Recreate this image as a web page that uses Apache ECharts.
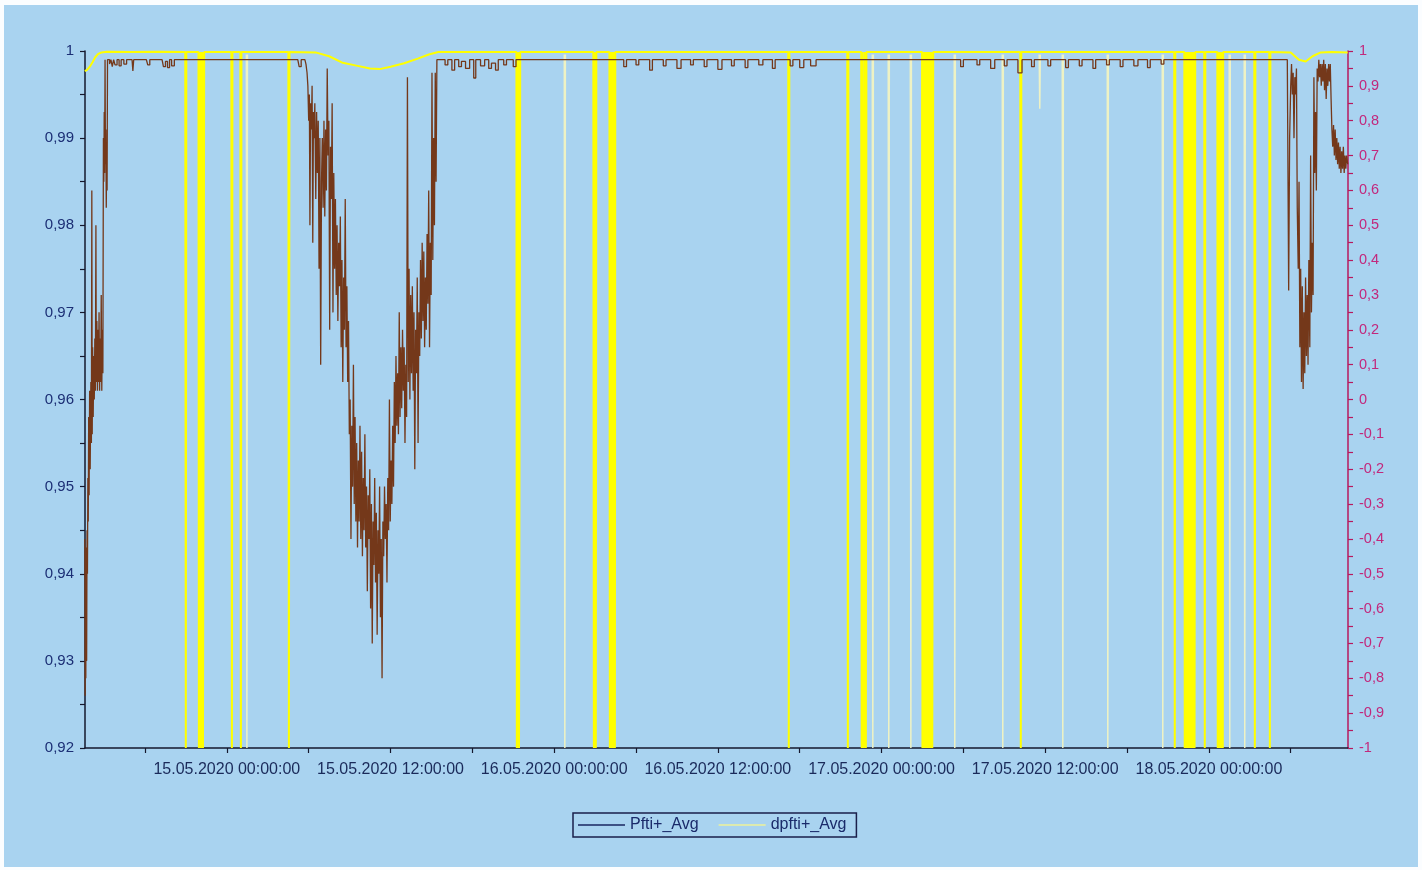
<!DOCTYPE html>
<html><head><meta charset="utf-8">
<script src="https://cdn.jsdelivr.net/npm/echarts@6/dist/echarts.min.js"></script>
<style>
html,body{margin:0;padding:0;background:#fbfdff;width:1422px;height:870px;overflow:hidden}
#c{position:absolute;left:4px;top:5px;width:1414px;height:862px;}
</style>
</head><body><div id="c"></div>
<script>
// x values are hours relative to 15.05.2020 00:00:00
const xTickHours = [-6,0,6,12,18,24,30,36,42,48,54,60,66,72,78];
const xLabelHours = [0,12,24,36,48,60,72];
const xLabels = ['15.05.2020 00:00:00','15.05.2020 12:00:00','16.05.2020 00:00:00','16.05.2020 12:00:00','17.05.2020 00:00:00','17.05.2020 12:00:00','18.05.2020 00:00:00'];

// Pfti+_Avg (left axis)
const pftiStart = [[-10.41,0.944],[-10.39,0.926],[-10.37,0.940],[-10.34,0.928],[-10.31,0.943],[-10.28,0.930],[-10.25,0.945],[-10.22,0.940],[-10.19,0.951],[-10.16,0.946],[-10.13,0.958],[-10.10,0.949],[-10.06,0.961],[-10.02,0.952],[-9.97,0.962],[-9.93,0.955],[-9.90,0.984],[-9.87,0.956],[-9.84,0.966],[-9.80,0.958],[-9.76,0.965],[-9.72,0.960],[-9.68,0.967],[-9.64,0.961],[-9.60,0.980],[-9.57,0.962],[-9.53,0.969],[-9.49,0.961],[-9.45,0.968],[-9.41,0.962],[-9.37,0.970],[-9.33,0.961],[-9.29,0.967],[-9.25,0.962],[-9.21,0.972],[-9.17,0.961],[-9.13,0.968],[-9.09,0.963],[-9.05,0.990],[-9.02,0.985],[-8.99,0.993],[-8.96,0.986],[-8.93,0.999],[-8.90,0.987],[-8.87,0.991],[-8.84,0.982],[-8.81,0.989],[-8.78,0.984],[-8.75,0.999],[-8.70,0.999]];
const pftiFlat1 = [[-8.60,0.9985],[-8.50,0.999],[-8.40,0.9982],[-8.30,0.999],[-8.20,0.9984],[-8.05,0.999],[-7.90,0.9983],[-7.75,0.999],[-7.55,0.9985],[-7.35,0.999],[-6.95,0.999],[-6.89,0.9977],[-6.83,0.999],[-5.90,0.999],[-5.80,0.9984],[-5.65,0.999],[-4.75,0.999],[-4.65,0.9982],[-4.50,0.9988],[-4.35,0.9981],[-4.20,0.999],[-4.05,0.9983],[-3.85,0.999],[5.20,0.999],[5.30,0.9982],[5.45,0.999],[5.72,0.999]];
const pftiDip = [[5.80,0.9985],[5.88,0.9975],[5.94,0.996],[6.00,0.992],[6.05,0.995],[6.09,0.980],[6.14,0.994],[6.20,0.991],[6.25,0.996],[6.30,0.978],[6.35,0.993],[6.40,0.990],[6.45,0.994],[6.52,0.983],[6.58,0.993],[6.64,0.986],[6.70,0.992],[6.76,0.975],[6.82,0.990],[6.88,0.964],[6.94,0.985],[7.00,0.990],[7.06,0.982],[7.12,0.992],[7.18,0.981],[7.24,0.991],[7.30,0.984],[7.36,0.998],[7.42,0.988],[7.48,0.992],[7.54,0.968],[7.60,0.989],[7.66,0.983],[7.72,0.994],[7.78,0.970],[7.84,0.986],[7.90,0.975],[7.96,0.983],[8.02,0.972],[8.08,0.980],[8.14,0.969],[8.20,0.978],[8.26,0.973],[8.32,0.981],[8.38,0.966],[8.44,0.976],[8.50,0.962],[8.56,0.974],[8.62,0.968],[8.68,0.983],[8.74,0.966],[8.80,0.973],[8.86,0.962],[8.92,0.969],[8.98,0.956],[9.04,0.960],[9.10,0.944],[9.16,0.957],[9.22,0.950],[9.28,0.964],[9.34,0.948],[9.40,0.958],[9.46,0.946],[9.52,0.955],[9.58,0.943],[9.64,0.953],[9.70,0.946],[9.76,0.957],[9.82,0.944],[9.88,0.954],[9.94,0.942],[10.00,0.951],[10.06,0.945],[10.12,0.956],[10.18,0.943],[10.24,0.950],[10.30,0.938],[10.36,0.949],[10.42,0.944],[10.48,0.952],[10.54,0.936],[10.60,0.948],[10.66,0.932],[10.72,0.946],[10.78,0.941],[10.84,0.951],[10.90,0.939],[10.96,0.947],[11.02,0.933],[11.08,0.945],[11.14,0.940],[11.20,0.950],[11.26,0.935],[11.32,0.944],[11.38,0.928],[11.44,0.946],[11.50,0.942],[11.56,0.950],[11.62,0.944],[11.68,0.948],[11.74,0.939],[11.80,0.951],[11.86,0.945],[11.92,0.960],[11.98,0.946],[12.04,0.953],[12.10,0.948],[12.16,0.957],[12.22,0.950],[12.28,0.962],[12.34,0.955],[12.40,0.965],[12.46,0.957],[12.52,0.963],[12.58,0.956],[12.64,0.970],[12.70,0.958],[12.76,0.966],[12.82,0.959],[12.88,0.968],[12.94,0.961],[13.00,0.966],[13.06,0.955],[13.12,0.964],[13.18,0.958],[13.24,0.997],[13.30,0.962],[13.36,0.975],[13.42,0.960],[13.48,0.972],[13.54,0.963],[13.60,0.973],[13.66,0.961],[13.72,0.970],[13.78,0.952],[13.84,0.968],[13.90,0.963],[13.96,0.974],[14.02,0.955],[14.08,0.970],[14.14,0.965],[14.20,0.976],[14.26,0.967],[14.32,0.978],[14.38,0.969],[14.44,0.977],[14.50,0.966],[14.56,0.974],[14.62,0.968],[14.68,0.979],[14.74,0.971],[14.80,0.984],[14.86,0.966],[14.92,0.978],[14.98,0.972],[15.04,0.9975],[15.10,0.976],[15.16,0.990],[15.22,0.980],[15.28,0.9975],[15.34,0.985],[15.40,0.999]];
const pftiFlat2 = [[15.60,0.999],[16.0,0.9984],[16.2,0.999],[16.5,0.9978],[16.7,0.999],[17.0,0.9982],[17.2,0.9988],[17.5,0.9980],[17.8,0.999],[18.1,0.9969],[18.25,0.999],[18.6,0.9983],[18.9,0.999],[19.2,0.9980],[19.4,0.9986],[19.7,0.9978],[19.9,0.999],[20.3,0.9984],[20.5,0.999],[21.0,0.9982],[21.2,0.999],[28.9,0.999],[29.1,0.9982],[29.3,0.999],[30.0,0.9984],[30.2,0.999],[31.0,0.9978],[31.2,0.999],[32.0,0.9983],[32.2,0.999],[33.0,0.9980],[33.3,0.999],[34.0,0.9984],[34.2,0.999],[35.0,0.9982],[35.2,0.999],[36.0,0.9979],[36.3,0.999],[37.0,0.9983],[37.2,0.999],[38.0,0.9981],[38.2,0.999],[39.0,0.9984],[39.3,0.999],[40.0,0.9980],[40.2,0.999],[41.3,0.9983],[41.5,0.999],[42.0,0.9981],[42.3,0.999],[42.8,0.9983],[43.2,0.999],[53.5,0.999],[53.8,0.9982],[54.0,0.999],[55.0,0.9984],[55.2,0.999],[56.0,0.9980],[56.3,0.999],[57.0,0.9983],[57.2,0.999],[58.0,0.9975],[58.3,0.999],[59.0,0.9982],[59.2,0.999],[60.2,0.9983],[60.4,0.999],[61.5,0.9981],[61.7,0.999],[62.5,0.9983],[62.7,0.999],[63.5,0.9980],[63.7,0.999],[64.5,0.9984],[64.7,0.999],[65.5,0.9982],[65.7,0.999],[66.5,0.9983],[66.8,0.999],[67.5,0.9981],[67.7,0.999],[68.5,0.9985],[68.7,0.999],[77.75,0.999]];
const pftiEnd = [[77.85,0.9725],[77.92,0.990],[78.00,0.996],[78.06,0.9985],[78.12,0.995],[78.18,0.9975],[78.24,0.990],[78.30,0.997],[78.36,0.995],[78.42,0.998],[78.48,0.982],[78.55,0.975],[78.61,0.985],[78.67,0.966],[78.73,0.975],[78.79,0.962],[78.85,0.973],[78.91,0.9612],[78.97,0.970],[79.03,0.963],[79.09,0.974],[79.15,0.965],[79.21,0.972],[79.27,0.964],[79.33,0.976],[79.40,0.966],[79.46,0.988],[79.52,0.970],[79.58,0.978],[79.64,0.972],[79.70,0.997],[79.76,0.986],[79.82,0.993],[79.88,0.984],[79.94,0.998],[80.00,0.9965],[80.06,0.999],[80.12,0.997],[80.18,0.9985],[80.24,0.996],[80.30,0.9985],[80.36,0.9965],[80.42,0.999],[80.48,0.9955],[80.54,0.9985],[80.60,0.9945],[80.66,0.998],[80.72,0.996],[80.78,0.9985],[80.84,0.9965],[80.90,0.9985],[80.96,0.9945],[81.02,0.991],[81.08,0.989],[81.14,0.9915],[81.20,0.988],[81.26,0.991],[81.32,0.9875],[81.38,0.990],[81.44,0.987],[81.50,0.9895],[81.56,0.9865],[81.62,0.989],[81.68,0.986],[81.74,0.9885],[81.80,0.9865],[81.86,0.989],[81.92,0.986],[81.98,0.988],[82.04,0.9865],[82.10,0.988],[82.18,0.987]];

// dpfti+_Avg (right axis), bright spikes
const dpftiData = [[-10.41,0.942],[-10.25,0.946],[-10.05,0.955],[-9.85,0.968],[-9.65,0.982],[-9.45,0.991],[-9.2,0.996],[-8.8,0.998],[-7.0,0.997],[-5.0,0.998],
[-3.05,0.997],[-3.01,-1],[-2.97,0.997],
[-2.08,0.997],[-2.05,-1],[-2.0,0.997],[-1.95,-1],[-1.9,0.997],[-1.85,-1],[-1.8,0.997],[-1.75,-1],[-1.69,-1],[-1.66,0.997],
[0.33,0.997],[0.37,-1],[0.41,0.997],
[0.99,0.997],[1.03,-1],[1.07,0.997],
[4.51,0.997],[4.55,-1],[4.59,0.997],
[6.5,0.996],[7.5,0.985],[8.5,0.966],[9.5,0.958],[10.5,0.950],[11.2,0.948],[12.0,0.955],[13.0,0.965],[14.0,0.978],[14.8,0.990],[15.5,0.997],
[21.23,0.997],[21.26,-1],[21.30,0.997],[21.34,-1],[21.38,0.997],[21.42,-1],[21.48,-1],[21.51,0.997],
[26.87,0.997],[26.91,-1],[26.98,0.997],[27.05,-1],[27.09,0.997],
[28.05,0.997],[28.08,-1],[28.14,0.997],[28.20,-1],[28.26,0.997],[28.32,-1],[28.38,0.997],[28.45,-1],[28.48,0.997],
[41.16,0.997],[41.20,-1],[41.24,0.997],
[45.49,0.997],[45.53,-1],[45.57,0.997],
[46.51,0.997],[46.55,-1],[46.62,0.997],[46.70,-1],[46.78,0.997],[46.85,-1],[46.89,0.997],
[50.97,0.997],[51.0,-1],[51.06,0.997],[51.12,-1],[51.18,0.997],[51.24,-1],[51.30,0.997],[51.36,-1],[51.42,0.997],[51.48,-1],[51.54,0.997],[51.60,-1],[51.66,0.997],[51.72,-1],[51.76,-1],[51.79,0.997],
[58.17,0.997],[58.21,-1],[58.25,0.997],
[69.46,0.997],[69.50,-1],[69.54,0.997],
[70.20,0.997],[70.23,-1],[70.29,0.997],[70.35,-1],[70.41,0.997],[70.47,-1],[70.53,0.997],[70.59,-1],[70.65,0.997],[70.71,-1],[70.77,0.997],[70.83,-1],[70.89,0.997],[70.95,-1],[70.97,-1],[71.00,0.997],
[71.66,0.997],[71.70,-1],[71.74,0.997],
[72.62,0.997],[72.65,-1],[72.71,0.997],[72.77,-1],[72.83,0.997],[72.89,-1],[72.95,0.997],[73.02,-1],[73.05,0.997],
[75.33,0.997],[75.37,-1],[75.41,0.997],
[76.43,0.997],[76.47,-1],[76.51,0.997],
[78.0,0.996],[78.6,0.975],[79.1,0.970],[79.6,0.985],[80.2,0.996],[81.0,0.997],[82.18,0.996]];

// dpfti+_Avg, faint thin spikes
const dpftiPale = [[1.43,0.99],[1.47,-1],[1.51,0.99],[1.6,'-'],
[24.74,0.99],[24.78,-1],[24.82,0.99],[24.9,'-'],
[47.32,0.99],[47.36,-1],[47.40,0.99],[47.5,'-'],
[48.49,0.99],[48.53,-1],[48.57,0.99],[48.7,'-'],
[50.11,0.99],[50.15,-1],[50.19,0.99],[50.3,'-'],
[53.33,0.99],[53.37,-1],[53.41,0.99],[53.5,'-'],
[56.85,0.99],[56.89,-1],[56.93,0.99],[57.0,'-'],
[59.56,0.99],[59.60,0.834],[59.64,0.99],[59.7,'-'],
[61.25,0.99],[61.29,-1],[61.33,0.99],[61.4,'-'],
[64.55,0.99],[64.59,-1],[64.63,0.99],[64.7,'-'],
[68.58,0.99],[68.62,-1],[68.66,0.99],[68.8,'-'],
[73.49,0.99],[73.53,-1],[73.57,0.99],[73.7,'-'],
[74.59,0.99],[74.63,-1],[74.67,0.99]];

const pftiData = pftiStart.concat(pftiFlat1, pftiDip, pftiFlat2, pftiEnd);

const chart = echarts.init(document.getElementById('c'));
const FONT = 'Liberation Sans, Arial, sans-serif';
chart.setOption({
  animation: false,
  backgroundColor: '#a9d3f0',
  grid: {left: 81, right: 70, top: 46, bottom: 119},
  legend: {
    left: 569, top: 808,
    orient: 'horizontal',
    icon: 'rect',
    borderColor: '#1a1f4a', borderWidth: 1.5, borderRadius: 0,
    padding: [4, 10, 4, 5],
    itemWidth: 47, itemHeight: 1.5, itemGap: 20,
    textStyle: {color: '#1a2a6a', fontSize: 16, fontFamily: FONT},
    data: [
      {name: 'Pfti+_Avg', itemStyle: {color: '#1a2660'}},
      {name: 'dpfti+_Avg', itemStyle: {color: '#eef29a'}}
    ]
  },
  xAxis: {
    type: 'value', min: -10.4, max: 82.2,
    splitLine: {show: false},
    axisLine: {onZero: false, lineStyle: {color: '#15182e', width: 1.5}},
    axisTick: {show: true, customValues: xTickHours, length: 5, lineStyle: {color: '#15182e', width: 1.2}},
    axisLabel: {
      customValues: xLabelHours, margin: 14,
      color: '#1a2a5a', fontSize: 16, fontFamily: FONT,
      formatter: v => { const i = xLabelHours.indexOf(Math.round(v)); return i >= 0 ? xLabels[i] : ''; }
    }
  },
  yAxis: [
    {
      type: 'value', min: 0.92, max: 1, interval: 0.01, position: 'left',
      splitLine: {show: false},
      axisLine: {show: true, onZero: false, lineStyle: {color: '#15182e', width: 1.5}},
      axisTick: {show: true, length: 5, lineStyle: {color: '#15182e', width: 1.2}},
      minorTick: {show: true, splitNumber: 2, length: 5, lineStyle: {color: '#15182e', width: 1.2}},
      axisLabel: {
        margin: 11, color: '#1c2f75', fontSize: 15, fontFamily: FONT,
        formatter: v => { const r = Math.round(v * 100) / 100; return String(r).replace('.', ','); }
      }
    },
    {
      type: 'value', min: -1, max: 1, interval: 0.1, position: 'right',
      splitLine: {show: false},
      axisLine: {show: true, onZero: false, lineStyle: {color: '#b8185e', width: 1.5}},
      axisTick: {show: true, length: 5, lineStyle: {color: '#b8185e', width: 1.2}},
      minorTick: {show: true, splitNumber: 2, length: 5, lineStyle: {color: '#b8185e', width: 1.2}},
      axisLabel: {
        margin: 11, color: '#c2287c', fontSize: 14.5, fontFamily: FONT,
        formatter: v => { const r = Math.round(v * 10) / 10; return String(r).replace('.', ','); }
      }
    }
  ],
  series: [
    {
      name: 'dpfti+_Avg', type: 'line', yAxisIndex: 1, data: dpftiPale,
      symbol: 'none', connectNulls: false, z: 1,
      lineStyle: {color: '#eef2c4', width: 1.5}, itemStyle: {color: '#eef29a'}
    },
    {
      name: 'dpfti+_Avg', type: 'line', yAxisIndex: 1, data: dpftiData,
      symbol: 'none', z: 2,
      lineStyle: {color: '#ffff00', width: 2}, itemStyle: {color: '#eef29a'}
    },
    {
      name: 'Pfti+_Avg', type: 'line', yAxisIndex: 0, data: pftiData,
      symbol: 'none', step: 'end', z: 3,
      lineStyle: {color: '#74381a', width: 1.3}, itemStyle: {color: '#1a2660'}
    }
  ]
});
</script>
</body></html>
